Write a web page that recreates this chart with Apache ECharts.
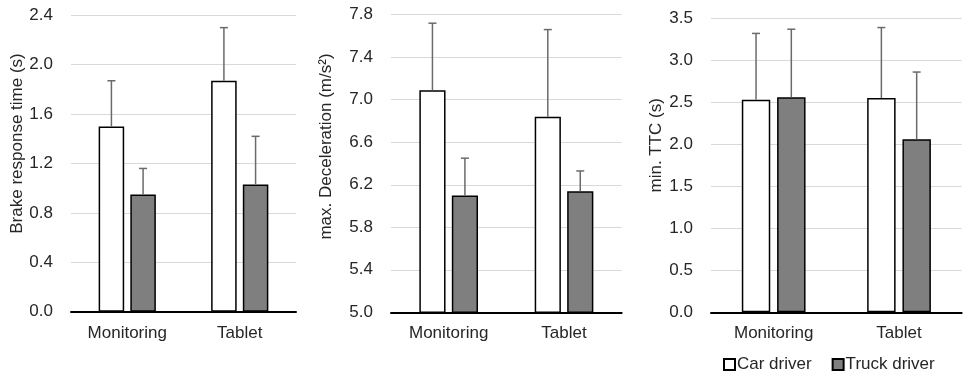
<!DOCTYPE html>
<html><head><meta charset="utf-8">
<script src="https://cdn.jsdelivr.net/npm/echarts@6/dist/echarts.min.js"></script>
<style>html,body{margin:0;padding:0;background:#fff}#c{width:963px;height:372px}</style>
</head><body><div id="c"></div>
<script>
const categories = ['Monitoring', 'Tablet'];
const seriesNames = ['Car driver', 'Truck driver'];
// Brake response time (s)
const brakeCar = [1.50, 1.87];
const brakeCarSD = [0.37, 0.43];
const brakeTruck = [0.95, 1.03];
const brakeTruckSD = [0.21, 0.39];
// max. Deceleration (m/s²)
const decelCar = [7.09, 6.84];
const decelCarSD = [0.63, 0.82];
const decelTruck = [6.10, 6.14];
const decelTruckSD = [0.35, 0.19];
// min. TTC (s)
const ttcCar = [2.53, 2.55];
const ttcCarSD = [0.79, 0.84];
const ttcTruck = [2.56, 2.06];
const ttcTruckSD = [0.81, 0.80];

const yTitles = ['Brake response time (s)', 'max. Deceleration (m/s²)', 'min. TTC (s)'];
const yMin = [0, 5.0, 0];
const yMax = [2.4, 7.8, 3.5];
const yInterval = [0.4, 0.4, 0.5];

const FONT = 'Liberation Sans, Arial, sans-serif';
const TXT = '#262626';
const FS = 17;
const BAR_FRAC = 0.227, GAP_FRAC = 0.24;

const grids = [
  {left: 71, top: 15.3, width: 225, height: 296.4},
  {left: 391, top: 14.7, width: 230.7, height: 297.6},
  {left: 711, top: 18.3, width: 250.7, height: 294}
];
const nameGaps = [43, 56, 46];
const nameShift = [40, 34, 40];

const panels = [
  [brakeCar, brakeCarSD, brakeTruck, brakeTruckSD],
  [decelCar, decelCarSD, decelTruck, decelTruckSD],
  [ttcCar, ttcCarSD, ttcTruck, ttcTruckSD]
];

function errRender(side) {
  return function (params, api) {
    const cat = api.value(0), mean = api.value(1), upper = api.value(2);
    const band = api.size([1, 0])[0];
    const bw = band * BAR_FRAC, gap = bw * GAP_FRAC;
    const off = side * (bw + gap) / 2;
    const p0 = api.coord([cat, mean]);
    const p1 = api.coord([cat, upper]);
    const x = p0[0] + off;
    const st = {stroke: '#6a6a6a', lineWidth: 1.5};
    return {type: 'group', children: [
      {type: 'line', shape: {x1: x, y1: p0[1], x2: x, y2: p1[1]}, style: st},
      {type: 'line', shape: {x1: x - 4, y1: p1[1], x2: x + 4, y2: p1[1]}, style: st}
    ]};
  };
}

const xAxes = [], yAxes = [], series = [];
for (let i = 0; i < 3; i++) {
  xAxes.push({
    type: 'category', gridIndex: i, data: categories,
    axisLine: {show: true, onZero: false, lineStyle: {color: '#000', width: 2}},
    axisTick: {show: false},
    axisLabel: {color: TXT, fontFamily: FONT, fontSize: FS, margin: 13}
  });
  yAxes.push({
    type: 'value', gridIndex: i, min: yMin[i], max: yMax[i], interval: yInterval[i],
    name: yTitles[i], nameLocation: 'middle', nameGap: nameGaps[i], nameRotate: 90,
    nameTextStyle: {color: TXT, fontFamily: FONT, fontSize: FS, padding: [0, 0, 0, nameShift[i]]},
    axisLine: {show: false}, axisTick: {show: false},
    axisLabel: {color: TXT, fontFamily: FONT, fontSize: FS, margin: 18,
      formatter: v => v.toFixed(1)},
    splitLine: {show: true, lineStyle: {color: '#d9d9d9', width: 1}}
  });
  const [c, cs, t, ts] = panels[i];
  series.push({
    name: seriesNames[0], type: 'bar', xAxisIndex: i, yAxisIndex: i, data: c,
    barWidth: (BAR_FRAC * 100) + '%', barGap: (GAP_FRAC * 100) + '%',
    itemStyle: {color: '#ffffff', borderColor: '#000', borderWidth: 1.5}, z: 2
  });
  series.push({
    name: seriesNames[1], type: 'bar', xAxisIndex: i, yAxisIndex: i, data: t,
    barWidth: (BAR_FRAC * 100) + '%', barGap: (GAP_FRAC * 100) + '%',
    itemStyle: {color: '#7f7f7f', borderColor: '#000', borderWidth: 1.5}, z: 2
  });
  series.push({
    type: 'custom', xAxisIndex: i, yAxisIndex: i, z: 3, silent: true,
    renderItem: errRender(-1),
    data: c.map((v, k) => [k, v, v + cs[k]])
  });
  series.push({
    type: 'custom', xAxisIndex: i, yAxisIndex: i, z: 3, silent: true,
    renderItem: errRender(1),
    data: t.map((v, k) => [k, v, v + ts[k]])
  });
}

const chart = echarts.init(document.getElementById('c'), null, {renderer: 'canvas'});
chart.setOption({
  animation: false,
  backgroundColor: '#fff',
  grid: grids,
  xAxis: xAxes,
  yAxis: yAxes,
  legend: {
    data: seriesNames, left: 718, top: 351, icon: 'rect',
    itemWidth: 11, itemHeight: 11, itemGap: 20,
    textStyle: {color: TXT, fontFamily: FONT, fontSize: FS, padding: [0, 0, 0, -3]}
  },
  series: series
});
</script></body></html>
